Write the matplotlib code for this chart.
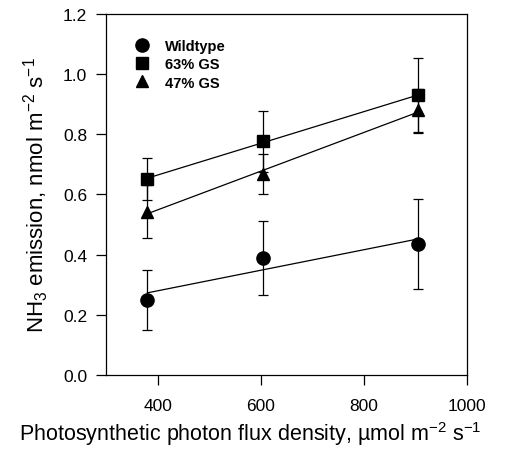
import numpy as np
import matplotlib
matplotlib.use("Agg")
import matplotlib.pyplot as plt

plt.rcParams["font.family"] = ["Liberation Sans", "DejaVu Sans"]
plt.rcParams["mathtext.fontset"] = "custom"
plt.rcParams["mathtext.rm"] = "Liberation Sans"
plt.rcParams["mathtext.it"] = "Liberation Sans:italic"

# photon flux density, umol m-2 s-1
ppfd = [380, 605, 905]

series_names = ["Wildtype", "63% GS", "47% GS"]
wildtype = [0.25, 0.39, 0.435]
wildtype_err = [0.10, 0.123, 0.15]
gs63 = [0.652, 0.776, 0.929]
gs63_err = [0.07, 0.10, 0.126]
gs47 = [0.543, 0.668, 0.879]
gs47_err = [0.088, 0.068, 0.072]

x_ticks = [400, 600, 800, 1000]
y_ticks = [0.0, 0.2, 0.4, 0.6, 0.8, 1.0, 1.2]

fig = plt.figure(figsize=(5.05, 4.56), dpi=100)
ax = fig.add_axes([0.210, 0.1754, 0.715, 0.792])

markers = ["o", "s", "^"]
sizes = [9.5, 8.5, 9]
x = np.asarray(ppfd, dtype=float)
for name, vals, errs, mk, ms in zip(
    series_names, [wildtype, gs63, gs47], [wildtype_err, gs63_err, gs47_err], markers, sizes
):
    ax.errorbar(x, vals, yerr=errs, fmt=mk, color="black", ms=ms, capsize=3.6,
                elinewidth=0.9, capthick=0.9, label=name, zorder=3)
    # linear regression drawn through the means
    slope, icpt = np.polyfit(x, vals, 1)
    ax.plot(x[[0, -1]], slope * x[[0, -1]] + icpt, color="black", lw=0.9, zorder=2)

ax.set_xlim(300, 1000)
ax.set_ylim(0.0, 1.2)
ax.set_xticks(x_ticks)
ax.set_yticks(y_ticks)
ax.set_yticklabels([f"{v:.1f}" for v in y_ticks])
ax.tick_params(direction="out", length=7.5, width=0.9, labelsize=12.5)
ax.tick_params(axis="x", pad=9)
ax.tick_params(axis="y", pad=6)
for sp in ax.spines.values():
    sp.set_linewidth(0.9)

ax.set_xlabel("Photosynthetic photon flux density, \u00b5mol m$^{-2}$ s$^{-1}$",
              fontsize=15.5)
# the original label is centred on the figure rather than on the axes
ax.xaxis.set_label_coords(0.40, -0.122)
ax.set_ylabel("NH$_3$ emission, nmol m$^{-2}$ s$^{-1}$", fontsize=16, labelpad=9)

handles, labels = ax.get_legend_handles_labels()
handles = [h[0] for h in handles]
ax.legend(handles, labels, loc="upper left", bbox_to_anchor=(0.064, 0.947),
          frameon=False, handlelength=1.0, handletextpad=1.05, labelspacing=0.3,
          prop={"size": 10.5, "weight": "bold"}, borderaxespad=0)

fig.savefig("out.png", dpi=100)
